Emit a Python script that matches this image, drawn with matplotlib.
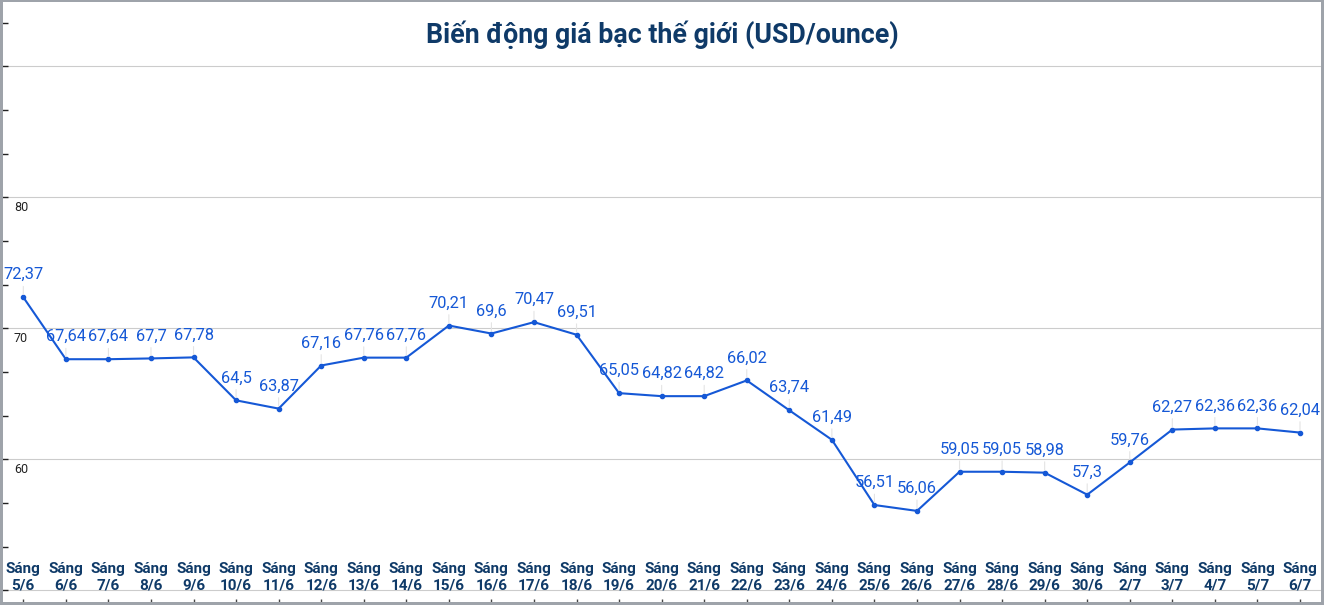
import matplotlib
matplotlib.use("Agg")
import matplotlib.pyplot as plt
from matplotlib.patches import Rectangle
import numpy as np

plt.rcParams['font.family'] = ['Roboto', 'DejaVu Sans']

title = "Biến động giá bạc thế giới (USD/ounce)"
dates = ["5/6", "6/6", "7/6", "8/6", "9/6", "10/6", "11/6", "12/6", "13/6", "14/6",
         "15/6", "16/6", "17/6", "18/6", "19/6", "20/6", "21/6", "22/6", "23/6", "24/6",
         "25/6", "26/6", "27/6", "28/6", "29/6", "30/6", "2/7", "3/7", "4/7", "5/7", "6/7"]
session = "Sáng"
prices = [72.37, 67.64, 67.64, 67.7, 67.78, 64.5, 63.87, 67.16, 67.76, 67.76,
          70.21, 69.6, 70.47, 69.51, 65.05, 64.82, 64.82, 66.02, 63.74, 61.49,
          56.51, 56.06, 59.05, 59.05, 58.98, 57.3, 59.76, 62.27, 62.36, 62.36, 62.04]
y_labels = [60, 70, 80]
grid_values = [50, 60, 70, 80, 90]

W, H = 1324, 605
fig = plt.figure(figsize=(W / 100, H / 100), dpi=100)
ax = fig.add_axes([0, 0, 1, 1])

ppu = 13.1
y0_pix = 459.3
ax.set_ylim(60 - (H - y0_pix) / ppu, 60 + y0_pix / ppu)
n = len(prices)
sp = (1300 - 23.3) / (n - 1)
ax.set_xlim(-23.3 / sp, (n - 1) + (W - 1300) / sp)

for s in ax.spines.values():
    s.set_visible(False)

for g in grid_values:
    ax.axhline(g, color='#cccccc', lw=0.8, zorder=1)

blue = '#1558d6'
navy = '#0f3a68'
x = np.arange(n)
ax.plot(x, prices, color=blue, lw=1.5, marker='o', markersize=3, zorder=3)

for i, v in enumerate(prices):
    ax.annotate(str(v).replace('.', ','), xy=(i, v), xytext=(0, 18),
                textcoords='offset pixels', ha='center', va='baseline',
                fontsize=11.8, color=blue, zorder=4,
                arrowprops=dict(arrowstyle='-', color='#e4e4e4', lw=0.8,
                                shrinkA=1, shrinkB=2))

ticks = [50 + k * 10 / 3 for k in range(14)]
ax.set_yticks(ticks)
ax.set_yticklabels([])
ax.tick_params(axis='y', direction='in', length=5.5, width=1, color='#222222', left=True)
for yl in y_labels:
    ax.annotate(str(yl), xy=(0, yl), xycoords=('axes fraction', 'data'),
                xytext=(14, -4), textcoords='offset pixels', ha='left', va='top',
                fontsize=9, color='#222222')

ax.set_xticks(x)
ax.set_xticklabels([])
ax.tick_params(axis='x', direction='in', length=4.5, width=1, color='#444444', bottom=True)
xt = ax.get_xaxis_transform()
for i, d in enumerate(dates):
    ax.text(i, 1 - 573 / H, session, transform=xt, ha='center', va='baseline',
            fontsize=11, fontweight='bold', color=navy, zorder=5)
    ax.text(i, 1 - 589 / H, d, transform=xt, ha='center', va='baseline',
            fontsize=11, fontweight='bold', color=navy, zorder=5)

fig.text(0.5, 1 - 35 / H, title, ha='center', va='center', fontsize=19.3,
         fontweight='bold', color=navy)

fc = '#9ea3aa'
for (x0, y0, w, h) in [(0, 0, 3, H), (0, H - 2, W, 2), (W - 3, 0, 3, H), (0, 0, W, 3)]:
    fig.patches.append(Rectangle((x0 / W, y0 / H), w / W, h / H, transform=fig.transFigure,
                                 facecolor=fc, edgecolor='none', zorder=10))

fig.savefig('out.png', dpi=100)
